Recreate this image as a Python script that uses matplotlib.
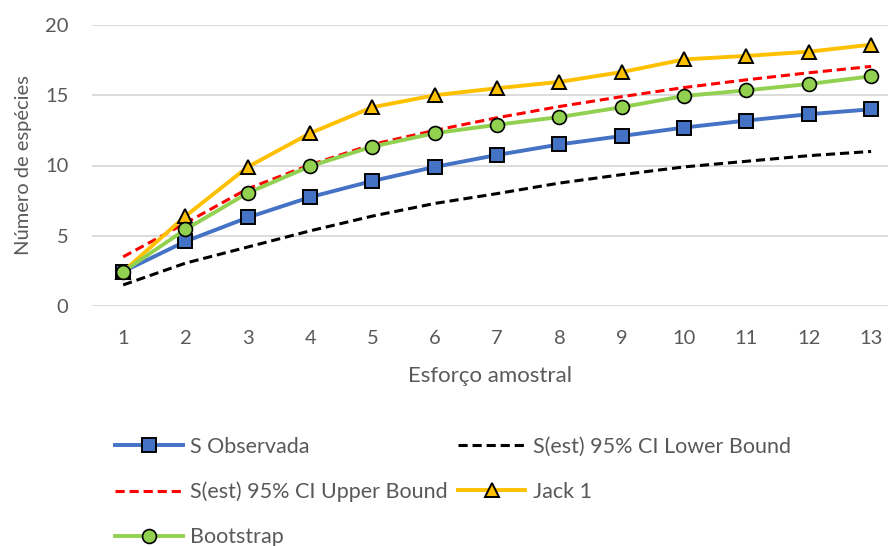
import matplotlib.pyplot as plt
import numpy as np

plt.rcParams['font.family'] = ['Lato', 'DejaVu Sans']

esforco = list(range(1, 14))
s_observada = [2.45, 4.6, 6.3, 7.75, 8.9, 9.9, 10.75, 11.5, 12.1, 12.7, 13.2, 13.65, 14.0]
ci_lower = [1.5, 3.05, 4.2, 5.35, 6.4, 7.3, 8.0, 8.75, 9.35, 9.9, 10.3, 10.7, 11.0]
ci_upper = [3.5, 5.9, 8.35, 10.05, 11.5, 12.5, 13.4, 14.2, 14.9, 15.55, 16.1, 16.6, 17.05]
jack1 = [2.45, 6.4, 9.9, 12.3, 14.15, 15.0, 15.5, 15.95, 16.65, 17.55, 17.8, 18.1, 18.6]
bootstrap = [2.45, 5.45, 8.05, 9.95, 11.35, 12.3, 12.9, 13.45, 14.15, 14.95, 15.35, 15.8, 16.35]

fig = plt.figure(figsize=(8.88, 5.46), dpi=100)
ax = fig.add_axes([92 / 888, 240 / 546, 796 / 888, 281 / 546])

grey = '#595959'

l_obs, = ax.plot(esforco, s_observada, color='#4472C4', lw=2.8, marker='s', ms=9.5,
                 mfc='#4472C4', mec='black', mew=1.4, label='S Observada', zorder=4)
l_low, = ax.plot(esforco, ci_lower, color='black', lw=2.2, ls=(0, (3, 1.6)),
                 label='S(est) 95% CI Lower Bound', zorder=3)
l_up, = ax.plot(esforco, ci_upper, color='#FF0000', lw=2.2, ls=(0, (3, 1.6)),
                label='S(est) 95% CI Upper Bound', zorder=3)
l_jack, = ax.plot(esforco, jack1, color='#FFC000', lw=2.8, marker='^', ms=10,
                  mfc='#FFC000', mec='black', mew=1.4, label='Jack 1', zorder=4)
l_boot, = ax.plot(esforco, bootstrap, color='#92D050', lw=2.8, marker='o', ms=10,
                  mfc='#92D050', mec='black', mew=1.2, label='Bootstrap', zorder=5)

ax.set_xlim(0.5, 0.5 + 796 / 62.33)
ax.set_ylim(0, 20)
ax.set_xticks(esforco)
ax.set_yticks([0, 5, 10, 15, 20])
ax.grid(axis='y', color='#D9D9D9', lw=1.3)
ax.set_axisbelow(True)
for s in ax.spines.values():
    s.set_visible(False)
ax.tick_params(length=0, labelsize=14.5, colors=grey)
ax.tick_params(axis='x', pad=17)
ax.tick_params(axis='y', pad=17)

ax.set_xlabel('Esforço amostral', fontsize=16, color=grey, labelpad=14)
ax.set_ylabel('Número de espécies', fontsize=14.5, color=grey, labelpad=9)

fig.legend(handles=[l_obs, l_up, l_boot, l_low, l_jack], ncol=2,
           loc='upper left', bbox_to_anchor=(115 / 888, 1 - 437 / 546),
           frameon=False, fontsize=15.5, labelcolor=grey, handlelength=3.15,
           handletextpad=0.35, columnspacing=0.45, labelspacing=1.15,
           borderaxespad=0, borderpad=0)

fig.savefig('out.png', dpi=100)
